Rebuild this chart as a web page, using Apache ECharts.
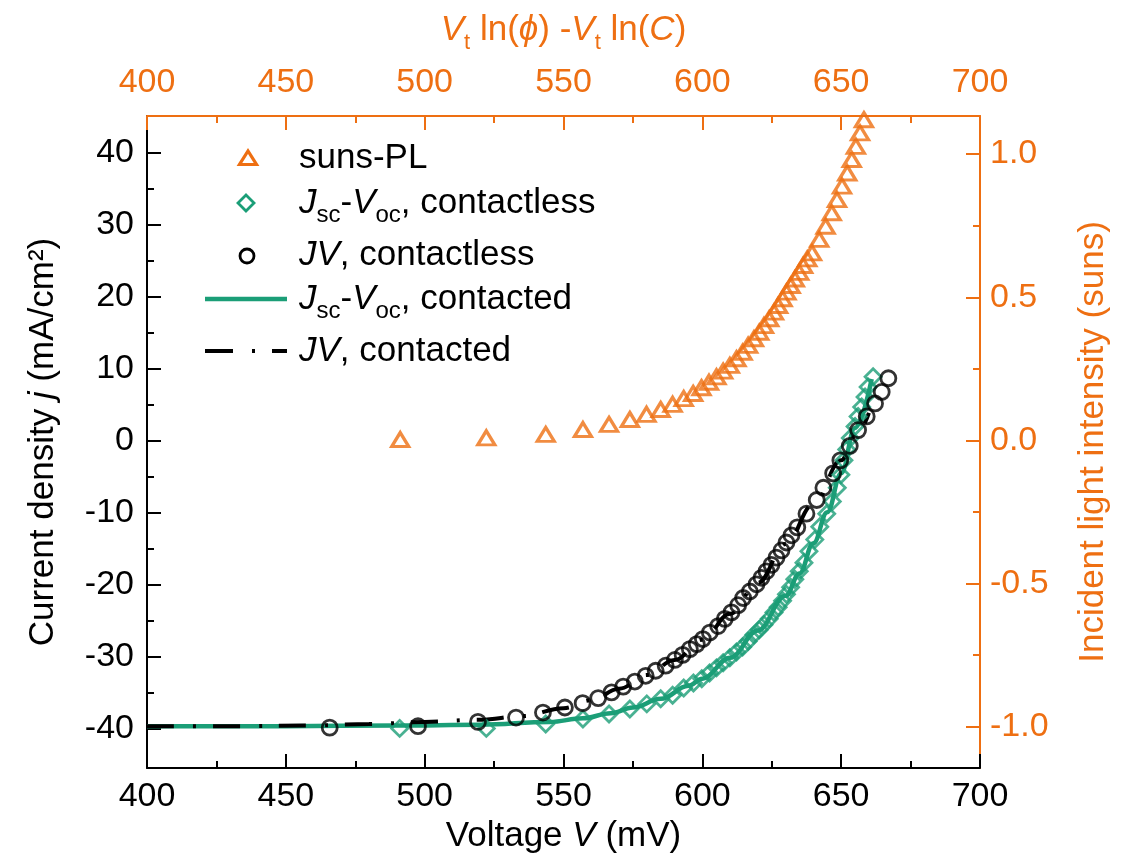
<!DOCTYPE html>
<html>
<head>
<meta charset="utf-8">
<script src="https://cdn.jsdelivr.net/npm/echarts@6/dist/echarts.min.js"></script>
<style>
  html, body { margin: 0; padding: 0; background: #ffffff; }
  #chart { width: 1123px; height: 859px; }
</style>
</head>
<body>
<div id="chart"></div>
<script>
// ---- tick labels ----
const voltageTicks = [400, 450, 500, 550, 600, 650, 700];
const currentTicks = [-40, -30, -20, -10, 0, 10, 20, 30, 40];
const currentMinorTicks = [-35, -25, -15, -5, 5, 15, 25, 35];
const intensityTicks = [-1, -0.5, 0, 0.5, 1];
const intensityMinorTicks = [-0.75, -0.25, 0.25, 0.75];

// ---- suns-PL (top axis, mV / right axis, suns) ----
const sunsPlVoltage = [491.2, 522.2, 543.6, 557.0, 566.4, 573.9, 579.9, 585.0, 589.3, 593.3,
  596.7, 599.7, 602.4, 605.1, 607.5, 609.9, 612.3, 614.5, 616.5, 618.6,
  620.5, 622.2, 624.1, 625.8, 627.3, 628.9, 630.3, 631.8, 633.3, 634.9,
  636.3, 637.8, 639.5, 642.1, 644.4, 646.6, 648.5, 650.3, 652.2, 653.8,
  655.3, 656.8, 658.2];
const sunsPlIntensity = [0.003, 0.009, 0.021, 0.038, 0.056, 0.073, 0.091, 0.108, 0.126, 0.146,
  0.164, 0.184, 0.203, 0.222, 0.242, 0.262, 0.285, 0.308, 0.332, 0.355,
  0.378, 0.401, 0.425, 0.448, 0.471, 0.495, 0.518, 0.541, 0.564, 0.587,
  0.611, 0.634, 0.655, 0.702, 0.748, 0.795, 0.841, 0.888, 0.934, 0.981,
  1.027, 1.074, 1.120];

// ---- Jsc-Voc, contactless (mV / mA cm^-2) ----
const jscVocContactlessVoltage = [491.0, 522.2, 543.6, 557.0, 566.4, 573.9, 580.0, 585.0, 589.3, 593.3,
  596.8, 599.8, 602.6, 605.1, 607.5, 609.9, 612.3, 614.5, 616.5, 618.6,
  620.5, 622.2, 624.1, 625.8, 627.3, 628.9, 630.3, 631.8, 633.3, 634.9,
  636.6, 638.4, 640.5, 642.3, 644.8, 646.8, 648.6, 649.9, 651.0, 652.0,
  653.3, 655.0, 656.1, 657.4, 658.6, 659.7, 661.5];
const jscVocContactlessCurrent = [-39.9, -39.9, -39.3, -38.6, -37.9, -37.2, -36.5, -35.8, -35.3, -34.3,
  -33.6, -33.0, -32.2, -31.5, -30.8, -30.1, -29.3, -28.6, -27.8, -26.9,
  -26.2, -25.5, -24.7, -23.8, -23.1, -22.2, -21.3, -20.3, -19.2, -18.1,
  -16.9, -15.3, -13.7, -11.9, -10.1, -8.4, -6.5, -4.7, -2.7, -1.2,
  0.4, 2.0, 3.4, 4.7, 6.1, 7.5, 8.9];

// ---- JV, contactless ----
const jvContactlessVoltage = [465.8, 497.6, 519.2, 532.9, 542.6, 550.5, 556.9, 562.5, 567.3, 571.5,
  575.7, 579.6, 583.2, 586.8, 590.1, 592.9, 595.5, 598.0, 600.2, 602.7,
  605.7, 608.1, 610.5, 612.9, 614.7, 617.1, 619.5, 621.3, 623.1, 624.9,
  626.7, 628.5, 630.3, 632.1, 634.2, 637.5, 641.2, 643.6, 647.1, 649.7,
  653.1, 656.1, 659.2, 662.2, 664.6, 667.0];
const jvContactlessCurrent = [-39.8, -39.6, -39.0, -38.4, -37.7, -37.0, -36.4, -35.7, -34.9, -34.1,
  -33.4, -32.6, -31.9, -31.2, -30.4, -29.7, -28.9, -28.2, -27.5, -26.6,
  -25.7, -24.7, -23.8, -22.8, -21.8, -20.9, -19.9, -19.0, -18.1, -17.2,
  -16.2, -15.2, -14.1, -13.1, -12.0, -10.1, -8.2, -6.5, -4.5, -2.7,
  -0.7, 1.5, 3.4, 5.2, 6.8, 8.7];

// ---- Jsc-Voc, contacted (continuous curve) ----
const jscVocContactedVoltage = [400, 450, 490, 520, 545, 557, 567, 575, 585, 595,
  600, 610, 620, 630, 635, 640, 645, 650, 655, 661];
const jscVocContactedCurrent = [-39.6, -39.6, -39.5, -39.4, -39.0, -38.5, -37.8, -37.0, -35.8, -34.0,
  -33.0, -30.1, -26.3, -21.5, -18.4, -14.2, -9.9, -4.5, 1.8, 8.6];

// ---- JV, contacted (continuous curve) ----
const jvContactedVoltage = [400, 430, 460, 480, 500, 520, 535, 550, 560, 570,
  580, 590, 600, 610, 620, 630, 640, 650, 655, 660];
const jvContactedCurrent = [-39.6, -39.6, -39.5, -39.3, -39.0, -38.7, -38.2, -37.1, -36.0, -34.4,
  -32.5, -30.4, -27.6, -24.0, -19.7, -14.3, -8.8, -2.7, 0.6, 3.9];

const FONT = "'Liberation Sans', Arial, Helvetica, sans-serif";
const ORANGE = '#EE6F12';
const GREEN = '#1B9E77';
const BLACK = '#000000';
const HOLLOW = 'rgba(0,0,0,0)';

const zip = (xs, ys) => xs.map((x, i) => [x, ys[i]]);

const tickFont = 34;
const nameFont = 35;

const richFor = (color, subSize) => ({
  i: { fontStyle: 'italic', fontFamily: FONT, fontSize: nameFont, color: color, lineHeight: 48 },
  sub: { fontFamily: FONT, fontSize: subSize, color: color, lineHeight: subSize, verticalAlign: 'bottom' }
});

const chart = echarts.init(document.getElementById('chart'), null, { renderer: 'canvas' });

const legendRich = {
  i: { fontStyle: 'italic', fontFamily: FONT, fontSize: nameFont, lineHeight: 48, fill: BLACK },
  sub: { fontFamily: FONT, fontSize: 24, lineHeight: 24, verticalAlign: 'bottom', fill: BLACK }
};
const legendText = (y, text) => ({
  type: 'text', x: 299, y: y, silent: true,
  style: {
    text: text, fontFamily: FONT, fontSize: nameFont, lineHeight: 48, fill: BLACK,
    align: 'left', verticalAlign: 'middle', rich: legendRich
  }
});

const option = {
  animation: false,
  backgroundColor: '#ffffff',
  grid: { left: 147, right: 143, top: 116, bottom: 91, outerBoundsMode: 'none', containLabel: false },
  xAxis: [
    {
      type: 'value', position: 'bottom', min: 400, max: 700, interval: 50,
      axisLine: { show: true, onZero: false, lineStyle: { color: BLACK, width: 2 } },
      axisTick: { show: true, inside: true, length: 14, lineStyle: { color: BLACK, width: 2 } },
      minorTick: { show: true, splitNumber: 2, length: 7, lineStyle: { color: BLACK, width: 2 } },
      axisLabel: { customValues: voltageTicks, fontFamily: FONT, fontSize: tickFont, color: BLACK, margin: 12 },
      splitLine: { show: false }, minorSplitLine: { show: false },
      name: 'Voltage {i|V} (mV)', nameLocation: 'middle', nameGap: 44,
      nameTextStyle: { fontFamily: FONT, fontSize: nameFont, color: BLACK, rich: richFor(BLACK, 24) }
    },
    {
      type: 'value', position: 'top', min: 400, max: 700, interval: 50,
      axisLine: { show: true, onZero: false, lineStyle: { color: ORANGE, width: 2 } },
      axisTick: { show: true, inside: true, length: 14, lineStyle: { color: ORANGE, width: 2 } },
      minorTick: { show: true, splitNumber: 2, length: 7, lineStyle: { color: ORANGE, width: 2 } },
      axisLabel: { customValues: voltageTicks, fontFamily: FONT, fontSize: tickFont, color: ORANGE, margin: 16 },
      splitLine: { show: false }, minorSplitLine: { show: false },
      name: '{i|V}{sub|t} ln({i|\u03D5}) -{i|V}{sub|t} ln({i|C})', nameLocation: 'middle', nameGap: 62,
      nameTextStyle: { fontFamily: FONT, fontSize: nameFont, color: ORANGE, lineHeight: 48, rich: richFor(ORANGE, 22) }
    }
  ],
  yAxis: [
    {
      type: 'value', position: 'left', min: -45.4, max: 45.1,
      axisLine: { show: true, onZero: false, lineStyle: { color: BLACK, width: 2 } },
      axisTick: { show: true, inside: true, length: 14, customValues: currentTicks, lineStyle: { color: BLACK, width: 2 } },
      axisLabel: { customValues: currentTicks, fontFamily: FONT, fontSize: tickFont, color: BLACK, margin: 13 },
      splitLine: { show: false },
      name: 'Current density {i|j} (mA/cm\u00B2)', nameLocation: 'middle', nameGap: 80, nameRotate: 90,
      nameTextStyle: { fontFamily: FONT, fontSize: nameFont, color: BLACK, rich: richFor(BLACK, 24) }
    },
    {
      type: 'value', position: 'right', min: -1.144, max: 1.133,
      axisLine: { show: true, onZero: false, lineStyle: { color: ORANGE, width: 2 } },
      axisTick: { show: true, inside: true, length: 14, customValues: intensityTicks, lineStyle: { color: ORANGE, width: 2 } },
      axisLabel: { customValues: intensityTicks, formatter: v => v.toFixed(1), fontFamily: FONT, fontSize: tickFont, color: ORANGE, margin: 10 },
      splitLine: { show: false },
      name: 'Incident light intensity (suns)', nameLocation: 'middle', nameGap: 96, nameRotate: 90,
      nameTextStyle: { fontFamily: FONT, fontSize: nameFont, color: ORANGE }
    },
    {
      type: 'value', position: 'left', min: -45.4, max: 45.1,
      axisLine: { show: false },
      axisTick: { show: true, inside: true, length: 7, customValues: currentMinorTicks, lineStyle: { color: BLACK, width: 2 } },
      axisLabel: { show: false }, splitLine: { show: false }
    },
    {
      type: 'value', position: 'right', min: -1.144, max: 1.133,
      axisLine: { show: false },
      axisTick: { show: true, inside: true, length: 7, customValues: intensityMinorTicks, lineStyle: { color: ORANGE, width: 2 } },
      axisLabel: { show: false }, splitLine: { show: false }
    }
  ],
  series: [
    {
      name: 'Jsc-Voc, contacted', type: 'line', xAxisIndex: 0, yAxisIndex: 0,
      data: zip(jscVocContactedVoltage, jscVocContactedCurrent),
      smooth: 0.4, smoothMonotone: 'x', symbol: 'none', showSymbol: false,
      lineStyle: { color: GREEN, width: 4.5 }, z: 2, silent: true
    },
    {
      name: 'JV, contacted', type: 'line', xAxisIndex: 0, yAxisIndex: 0,
      data: zip(jvContactedVoltage, jvContactedCurrent),
      smooth: 0.4, smoothMonotone: 'x', symbol: 'none', showSymbol: false,
      lineStyle: { color: BLACK, width: 4, type: [27, 19, 3, 17] }, z: 3, silent: true
    },
    {
      name: 'Jsc-Voc, contactless', type: 'scatter', xAxisIndex: 0, yAxisIndex: 0,
      data: zip(jscVocContactlessVoltage, jscVocContactlessCurrent),
      symbol: 'diamond', symbolSize: 16,
      itemStyle: { color: HOLLOW, borderColor: GREEN, borderWidth: 2.8 }, z: 4, silent: true
    },
    {
      name: 'JV, contactless', type: 'scatter', xAxisIndex: 0, yAxisIndex: 0,
      data: zip(jvContactlessVoltage, jvContactlessCurrent),
      symbol: 'circle', symbolSize: 15,
      itemStyle: { color: HOLLOW, borderColor: BLACK, borderWidth: 2.8 }, z: 5, silent: true
    },
    {
      name: 'suns-PL', type: 'scatter', xAxisIndex: 1, yAxisIndex: 1,
      data: zip(sunsPlVoltage, sunsPlIntensity),
      symbol: 'triangle', symbolSize: [17, 14],
      itemStyle: { color: HOLLOW, borderColor: ORANGE, borderWidth: 3.2 }, z: 6, silent: true
    }
  ],
  graphic: [
    // legend keys
    { type: 'polygon', silent: true, shape: { points: [[239.5, 164.5], [256.5, 164.5], [248, 151]] },
      style: { fill: HOLLOW, stroke: ORANGE, lineWidth: 3.2 } },
    { type: 'polygon', silent: true, shape: { points: [[246, 195], [254, 203], [246, 211], [238, 203]] },
      style: { fill: HOLLOW, stroke: GREEN, lineWidth: 2.8 } },
    { type: 'circle', silent: true, shape: { cx: 247, cy: 256, r: 7 },
      style: { fill: HOLLOW, stroke: BLACK, lineWidth: 2.8 } },
    { type: 'line', silent: true, shape: { x1: 205, y1: 299, x2: 287, y2: 299 },
      style: { stroke: GREEN, lineWidth: 4.5 } },
    { type: 'line', silent: true, shape: { x1: 205, y1: 351, x2: 287, y2: 351 },
      style: { stroke: BLACK, lineWidth: 4, lineDash: [28, 19, 3, 17] } },
    legendText(158, 'suns-PL'),
    legendText(203, '{i|J}{sub|sc}-{i|V}{sub|oc}, contactless'),
    legendText(255, '{i|JV}, contactless'),
    legendText(299, '{i|J}{sub|sc}-{i|V}{sub|oc}, contacted'),
    legendText(351, '{i|JV}, contacted')
  ]
};

chart.setOption(option);
</script>
</body>
</html>
